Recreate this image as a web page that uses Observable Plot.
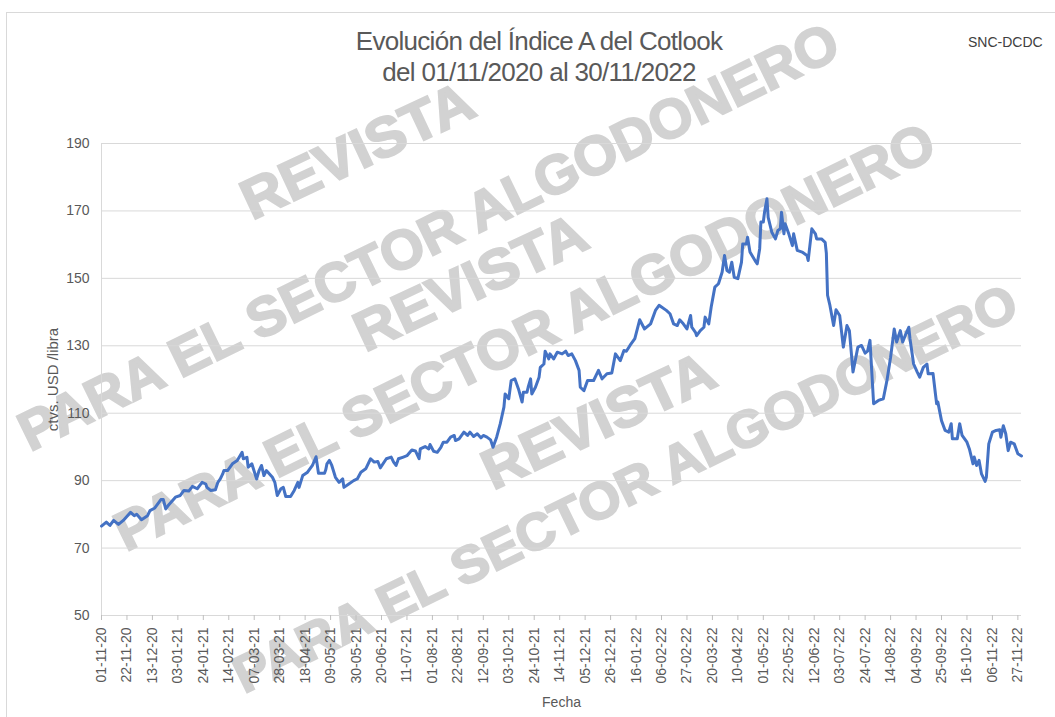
<!DOCTYPE html>
<html>
<head>
<meta charset="utf-8">
<script src="https://cdn.jsdelivr.net/npm/d3@7"></script>
<script src="https://cdn.jsdelivr.net/npm/@observablehq/plot@0.6"></script>
<style>
  html, body { margin: 0; padding: 0; background: #ffffff; }
  #wrap { position: relative; width: 1055px; height: 717px; overflow: hidden; background: #ffffff;
          font-family: "Liberation Sans", Arial, sans-serif; }
  #border { position: absolute; left: 6px; top: 12px; width: 1200px; height: 900px;
            border-left: 1px solid #d9d9d9; border-top: 1px solid #d9d9d9; }
  #wm { position: absolute; left: 0; top: 0; }
  #chart { position: absolute; left: 0; top: 0; }
  #title { position: absolute; left: 289px; top: 26px; width: 500px; text-align: center;
           font-size: 26px; line-height: 31px; color: #595959; letter-spacing: -0.7px; }
  #source { position: absolute; left: 968px; top: 34px; font-size: 14px; line-height: 16px; color: #404040; }
</style>
</head>
<body>
<div id="wrap">
  <div id="border"></div>
  <svg id="wm" width="1055" height="717"></svg>
  <div id="chart"></div>
  <div id="title"></div>
  <div id="source">SNC-DCDC</div>
</div>
<script>
// ---- Data ----
const fechas = [
"2020-11-01","2020-11-05","2020-11-08","2020-11-11","2020-11-15","2020-11-19","2020-11-25","2020-11-28","2020-11-30",
"2020-12-04","2020-12-09","2020-12-11","2020-12-15","2020-12-20","2020-12-22","2020-12-24","2020-12-26",
"2021-01-01","2021-01-05","2021-01-08","2021-01-12","2021-01-15","2021-01-19","2021-01-23","2021-01-26","2021-01-27","2021-01-30",
"2021-02-03","2021-02-05","2021-02-07","2021-02-09","2021-02-10","2021-02-13","2021-02-17","2021-02-21","2021-02-25","2021-02-26",
"2021-03-01","2021-03-02","2021-03-05","2021-03-09","2021-03-11","2021-03-13","2021-03-15","2021-03-17","2021-03-22","2021-03-24","2021-03-26","2021-03-29","2021-03-31",
"2021-04-02","2021-04-06","2021-04-09","2021-04-12","2021-04-13","2021-04-16","2021-04-20","2021-04-24","2021-04-27","2021-04-29",
"2021-05-04","2021-05-05","2021-05-06","2021-05-08","2021-05-10","2021-05-13","2021-05-16","2021-05-19","2021-05-20","2021-05-24","2021-05-28","2021-05-31",
"2021-06-03","2021-06-07","2021-06-11","2021-06-14","2021-06-17","2021-06-19","2021-06-24","2021-06-28","2021-06-30",
"2021-07-02","2021-07-04","2021-07-08","2021-07-11","2021-07-15","2021-07-18","2021-07-21","2021-07-22","2021-07-26","2021-07-29","2021-07-30",
"2021-08-02","2021-08-05","2021-08-08","2021-08-10","2021-08-13","2021-08-16","2021-08-19","2021-08-20","2021-08-23","2021-08-27","2021-08-30",
"2021-09-01","2021-09-04","2021-09-07","2021-09-10","2021-09-12","2021-09-15","2021-09-18","2021-09-20","2021-09-23","2021-09-26","2021-09-29","2021-09-30",
"2021-10-03","2021-10-05","2021-10-08","2021-10-11","2021-10-14","2021-10-15","2021-10-18","2021-10-19","2021-10-21","2021-10-22","2021-10-25","2021-10-28","2021-10-29",
"2021-11-01","2021-11-02","2021-11-05","2021-11-06","2021-11-09","2021-11-12","2021-11-16","2021-11-19","2021-11-21","2021-11-24","2021-11-27","2021-11-30",
"2021-12-01","2021-12-04","2021-12-07","2021-12-12","2021-12-16","2021-12-19","2021-12-23","2021-12-27","2021-12-30",
"2022-01-03","2022-01-06","2022-01-08","2022-01-11","2022-01-15","2022-01-19","2022-01-23","2022-01-28",
"2022-02-01","2022-02-04","2022-02-06","2022-02-10","2022-02-13","2022-02-16","2022-02-19","2022-02-21","2022-02-24","2022-02-27",
"2022-03-02","2022-03-03","2022-03-06","2022-03-07","2022-03-10","2022-03-13","2022-03-14","2022-03-17","2022-03-19","2022-03-22","2022-03-25","2022-03-28","2022-03-30",
"2022-04-01","2022-04-03","2022-04-05","2022-04-07","2022-04-10","2022-04-13","2022-04-14","2022-04-17","2022-04-18","2022-04-20","2022-04-25","2022-04-26","2022-04-28","2022-04-29",
"2022-05-01","2022-05-02","2022-05-04","2022-05-05","2022-05-08","2022-05-11","2022-05-13","2022-05-15","2022-05-16","2022-05-18","2022-05-19","2022-05-22","2022-05-25","2022-05-26","2022-05-29",
"2022-06-02","2022-06-06","2022-06-07","2022-06-10","2022-06-13","2022-06-14","2022-06-18","2022-06-21","2022-06-22","2022-06-23","2022-06-25","2022-06-28","2022-06-30",
"2022-07-03","2022-07-06","2022-07-09","2022-07-11","2022-07-14","2022-07-18","2022-07-21","2022-07-24","2022-07-26","2022-07-28","2022-07-31",
"2022-08-04","2022-08-08","2022-08-11","2022-08-14","2022-08-17","2022-08-19","2022-08-22","2022-08-24","2022-08-26","2022-08-29","2022-08-30",
"2022-09-02","2022-09-05","2022-09-07","2022-09-10","2022-09-13","2022-09-14","2022-09-18","2022-09-20","2022-09-21","2022-09-22","2022-09-25","2022-09-28",
"2022-10-01","2022-10-03","2022-10-04","2022-10-08","2022-10-10","2022-10-12","2022-10-16","2022-10-18","2022-10-21","2022-10-22","2022-10-24","2022-10-26","2022-10-28","2022-10-31",
"2022-11-01","2022-11-03","2022-11-06","2022-11-09","2022-11-12","2022-11-13","2022-11-15","2022-11-17","2022-11-19","2022-11-21","2022-11-24","2022-11-27","2022-11-30"
];
const indice = [
76.5,77.7,76.7,78.2,77.0,78.2,80.6,79.6,80.0,
78.4,79.6,81.1,81.9,84.4,84.4,81.6,82.6,
85.1,85.6,87.1,86.9,88.3,87.6,89.5,89.0,88.0,87.1,
87.3,89.5,90.5,92.0,93.0,93.0,95.0,96.0,98.4,96.5,
96.9,94.0,95.0,90.5,93.0,94.5,91.5,93.0,91.0,89.5,85.6,87.6,88.0,
85.3,85.3,87.1,89.5,88.0,91.5,92.5,94.5,97.1,92.2,
92.2,93.2,95.0,96.0,94.5,91.0,89.5,90.5,88.0,89.0,90.0,90.5,
92.5,93.5,96.5,95.5,95.7,93.8,96.5,97.0,95.5,
94.5,96.5,97.0,97.4,99.1,98.8,96.5,99.4,100.1,99.4,100.7,
98.7,98.4,99.9,101.4,101.4,102.9,103.4,101.9,102.4,104.4,103.4,
104.4,103.1,103.9,102.7,103.4,102.9,102.1,99.9,102.9,106.9,111.8,115.7,
114.3,119.7,120.2,117.2,113.3,116.2,116.2,117.7,120.2,115.7,117.7,120.7,123.6,
124.6,128.4,126.1,127.6,126.1,128.1,127.6,128.4,127.1,127.6,125.6,122.7,
117.7,116.7,119.7,119.7,122.7,120.2,121.7,121.9,127.6,
125.6,128.6,128.4,130.1,132.1,137.7,135.0,136.5,
140.5,142.0,141.5,140.5,139.5,136.5,136.0,137.7,136.5,135.0,
139.0,135.5,134.0,133.0,134.5,135.5,138.5,136.5,141.5,147.4,148.4,151.8,156.8,
152.3,151.8,154.8,150.3,149.9,154.8,160.2,160.2,162.2,157.8,154.8,154.3,158.8,166.7,
166.7,169.6,173.6,168.1,163.7,161.7,164.2,164.7,169.6,163.2,166.2,163.2,159.7,163.2,158.3,
157.8,156.8,155.3,164.7,163.2,161.7,161.7,160.7,157.5,145.0,141.9,136.0,140.7,
139.0,129.6,136.0,134.5,122.2,129.6,130.1,127.8,128.4,131.6,112.8,
113.8,114.3,119.7,126.6,135.0,131.1,134.5,131.1,133.0,135.5,132.1,
124.6,122.2,120.7,123.6,124.6,121.7,121.8,115.7,112.8,113.3,107.8,104.9,
104.4,106.9,102.4,102.4,106.9,103.4,101.4,99.4,95.0,97.0,94.5,96.0,92.0,89.8,
91.0,100.9,104.4,104.9,105.1,102.9,106.3,103.9,98.9,101.4,100.9,98.0,97.3
];
const tickFechas = [
"2020-11-01","2020-11-22","2020-12-13","2021-01-03","2021-01-24","2021-02-14","2021-03-07","2021-03-28",
"2021-04-18","2021-05-09","2021-05-30","2021-06-20","2021-07-11","2021-08-01","2021-08-22","2021-09-12",
"2021-10-03","2021-10-24","2021-11-14","2021-12-05","2021-12-26","2022-01-16","2022-02-06","2022-02-27",
"2022-03-20","2022-04-10","2022-05-01","2022-05-22","2022-06-12","2022-07-03","2022-07-24","2022-08-14",
"2022-09-04","2022-09-25","2022-10-16","2022-11-06","2022-11-27"
];
const yTicks = [50, 70, 90, 110, 130, 150, 170, 190];
const xDominio = ["2020-11-01", "2022-11-30"];
const titulo = ["Evolución del Índice A del Cotlook", "del 01/11/2020 al 30/11/2022"];
const etiquetaY = "ctvs. USD /libra";
const etiquetaX = "Fecha";
const marcaAgua = [
  {t: "REVISTA", x: 357, y: 150, r: -25, a: "middle", len: 250, fs: 56},
  {t: "PARA EL SECTOR ALGODONERO", x: 30, y: 452, r: -26, a: "start", len: 905, fs: 55},
  {t: "REVISTA", x: 470, y: 282, r: -25, a: "middle", len: 250, fs: 56},
  {t: "PARA EL SECTOR ALGODONERO", x: 126, y: 552, r: -26, a: "start", len: 905, fs: 55},
  {t: "REVISTA", x: 598, y: 420, r: -25, a: "middle", len: 250, fs: 56},
  {t: "PARA EL SECTOR ALGODONERO", x: 244, y: 694, r: -26, a: "start", len: 865, fs: 52}
];

// ---- Watermark (decorative overlay of the reference) ----
const wm = d3.select("#wm");
wm.selectAll("text").data(marcaAgua).join("text")
  .attr("transform", d => `translate(${d.x},${d.y}) rotate(${d.r})`)
  .attr("text-anchor", d => d.a)
  .attr("dominant-baseline", d => d.a === "middle" ? "central" : "alphabetic")
  .attr("textLength", d => d.len)
  .attr("lengthAdjust", "spacingAndGlyphs")
  .attr("font-family", "'Liberation Sans', Arial, sans-serif")
  .attr("font-weight", "bold")
  .attr("font-size", d => d.fs)
  .attr("fill", "#d2d2d2")
  .attr("stroke", "#d2d2d2")
  .attr("stroke-width", 2)
  .text(d => d.t);

// ---- Chart ----
const data = fechas.map((f, i) => ({fecha: new Date(f), valor: indice[i]}));
const ticks = tickFechas.map(f => new Date(f));
const dom = xDominio.map(f => new Date(f));
const fmt = d3.utcFormat("%d-%m-%y");

const chart = Plot.plot({
  width: 1055,
  height: 717,
  marginLeft: 101,
  marginRight: 34,
  marginTop: 143,
  marginBottom: 102,
  style: {
    fontFamily: "'Liberation Sans', Arial, sans-serif",
    fontSize: "14px",
    color: "#595959",
    background: "transparent",
    overflow: "visible"
  },
  x: {type: "utc", domain: dom, label: null},
  y: {domain: [50, 190], label: null},
  marks: [
    Plot.ruleY(yTicks, {stroke: "#d9d9d9", strokeWidth: 1}),
    Plot.ruleX([dom[0]], {stroke: "#d9d9d9", strokeWidth: 1}),
    Plot.axisY({ticks: yTicks, tickSize: 0, tickPadding: 12, label: null, fill: "#595959", fontSize: 14}),
    Plot.axisX({ticks: ticks, tickFormat: fmt, tickRotate: -90, tickSize: 5, tickPadding: 7,
                stroke: "#bfbfbf", fill: "#595959", label: null, fontSize: 14}),
    Plot.line(data, {x: "fecha", y: "valor", stroke: "#4472C4", strokeWidth: 3,
                     strokeLinejoin: "round", strokeLinecap: "round"}),
    Plot.text([etiquetaY], {text: d => d, frameAnchor: "left", dx: -48, rotate: -90,
                            textAnchor: "middle", lineAnchor: "middle", fontSize: 15, fill: "#595959"}),
    Plot.text([etiquetaX], {text: d => d, frameAnchor: "bottom", dy: 87,
                            textAnchor: "middle", lineAnchor: "middle", fontSize: 14, fill: "#595959"})
  ]
});
document.getElementById("chart").appendChild(chart);
document.getElementById("title").innerHTML = titulo.join("<br>");
</script>
</body>
</html>
